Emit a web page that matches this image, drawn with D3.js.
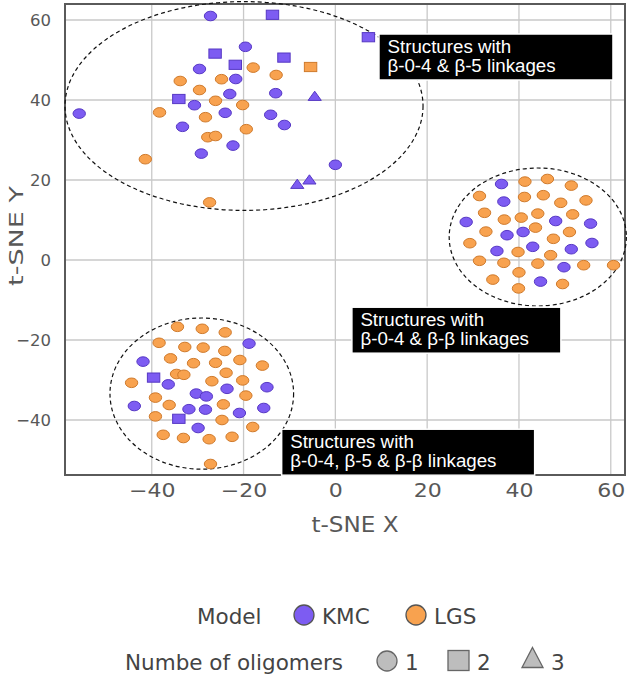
<!DOCTYPE html>
<html>
<head>
<meta charset="utf-8">
<script src="https://cdn.jsdelivr.net/npm/d3@7"></script>
<style>
  html, body { margin: 0; padding: 0; background: #fff; }
  svg { display: block; }
</style>
</head>
<body>
<svg id="chart" width="630" height="676"></svg>
<script>
// ---------- data (t-SNE coordinates) ----------
const xTicks = [-40, -20, 0, 20, 40, 60];
const yTicks = [-40, -20, 0, 20, 40, 60];

// KMC, 1 oligomer (circles)
const kmc1 = [
  [-27.2, 61], [-19.6, 53.3], [-29.6, 47.75], [-21.7, 45.25], [-23.0, 41.5], [-13.0, 41.7],
  [-30.7, 38.7], [-24.0, 36.8], [-14.1, 36.3], [-33.3, 33.3], [-11.1, 33.75], [-22.3, 28.6],
  [-29.2, 26.6], [-55.8, 36.6], [0.0, 23.8],
  [36.2, 19], [36.7, 14.6], [28.5, 9.5], [48, 9.75], [55.6, 9.1], [37.4, 6.2], [40.9, 7],
  [35.2, 2.25], [43, 3.3], [51.4, 2.7], [55.9, 4.25], [49.8, -1.8], [44.7, -5.4],
  [-18.8, -20.9], [-41.9, -25.4], [-36.4, -31.1], [-23.6, -32.2], [-14.9, -31.8], [-30.3, -33.4],
  [-28.1, -34.1], [-43.8, -36.5], [-31.9, -37.3], [-28.3, -37.4], [-20.9, -38.25], [-15.6, -37],
  [-29.9, -42]
];
// KMC, 2 oligomers (squares)
const kmc2 = [
  [-13.7, 61.3], [-26.2, 51.6], [-21.8, 48.8], [-11.2, 50.6], [-34.1, 40.25], [7.2, 55.7],
  [-39.6, -29.4], [-34.1, -39.7]
];
// KMC, 3 oligomers (triangles)
const kmc3 = [[-4.5, 40.9], [-5.65, 20.0], [-8.3, 18.9]];

// LGS, 1 oligomer (circles)
const lgs1 = [
  [-17.9, 48.1], [-12.9, 46.25], [-24.8, 45.2], [-33.8, 44.75], [-29.6, 42.5], [-26.1, 39.8],
  [-20.2, 38.75], [-38.3, 36.9], [-28.3, 35.7], [-19.4, 32.7], [-27.8, 30.7], [-26.1, 31],
  [-41.4, 25.2], [-27.4, 14.4],
  [41.3, 19.6], [46.2, 20.25], [51.4, 18.6], [31.4, 16], [41.2, 15.75], [45.3, 16.2], [49.1, 14.3],
  [54.6, 14.9], [32.5, 11.8], [36.8, 10.1], [40.5, 10.6], [44.1, 11.6], [51.7, 11.4], [32.8, 7.1],
  [43.6, 8.1], [51.0, 7], [29.3, 4.2], [47.5, 5.3], [39.8, 2], [46.9, 1.2], [31.4, -0.2],
  [36.7, -0.7], [44.1, -0.9], [54.1, -1.3], [60.6, -1.3], [40, -3.1], [34.3, -4.9], [49.5, -6],
  [39.9, -7.1],
  [-34.4, -16.7], [-29, -17.2], [-24, -18.1], [-38.4, -20.7], [-32.8, -21.75], [-28.8, -21.9],
  [-24.1, -22.75], [-35.9, -24.6], [-30.9, -25.8], [-26.1, -25.7], [-20.8, -25], [-15.9, -26.4],
  [-34.6, -28.5], [-33, -28.7], [-23.8, -28.2], [-44.4, -30.7], [-26.9, -30.3], [-20.2, -30.1],
  [-39.2, -34.4], [-19.5, -33.9], [-36.2, -36.25], [-24.4, -36.1], [-39.2, -39.1], [-24.7, -40],
  [-18, -41.75], [-37.5, -43.7], [-33.1, -44.5], [-27.5, -44.8], [-22.5, -44.2], [-27.2, -51]
];
// LGS, 2 oligomers (squares)
const lgs2 = [[-5.4, 48.25]];

// cluster ellipses: [cx, cy, rx, ry] in data units
const clusters = [
  [-19.9, 38.5, 39.0, 26.1],
  [44.1, 5.75, 19.3, 17.25],
  [-29.1, -33.4, 20.0, 18.9]
];
// annotation labels: anchor [x, y] (data units, top-left of box) and text lines
const noteAnchors = [[9.5, 56.5], [3.6, -11.8], [-11.7, -42.3]];
const noteLines = [
  ["Structures with", "β-0-4 & β-5 linkages"],
  ["Structures with", "β-0-4 & β-β linkages"],
  ["Structures with", "β-0-4, β-5 & β-β linkages"]
];

const modelNames = ["KMC", "LGS"];
const oligomerNames = ["1", "2", "3"];

// ---------- drawing ----------
const svg = d3.select("#chart");
const C = {
  kmcFill: "#7D5CF2", kmcStroke: "#5638C4",
  lgsFill: "#F8A24F", lgsStroke: "#CF7A2C",
  grid: "#c9c9c9", frame: "#5a5a5a", tick: "#585858", legend: "#444"
};

const x = d3.scaleLinear().domain([-58.9, 63.1]).range([65, 625]);
const y = d3.scaleLinear().domain([-53.75, 64]).range([475, 4]);

// grid
const g = svg.append("g");
g.append("g").selectAll("line").data(xTicks).join("line")
  .attr("x1", d => x(d)).attr("x2", d => x(d))
  .attr("y1", y.range()[0]).attr("y2", y.range()[1])
  .attr("stroke", C.grid).attr("stroke-width", 1.3);
g.append("g").selectAll("line").data(yTicks).join("line")
  .attr("y1", d => y(d)).attr("y2", d => y(d))
  .attr("x1", x.range()[0]).attr("x2", x.range()[1])
  .attr("stroke", C.grid).attr("stroke-width", 1.3);

// frame
svg.append("rect")
  .attr("x", x.range()[0]).attr("y", y.range()[1])
  .attr("width", x.range()[1] - x.range()[0]).attr("height", y.range()[0] - y.range()[1])
  .attr("fill", "none").attr("stroke", C.frame).attr("stroke-width", 2);

// axes tick labels via d3 axes
const xAxis = svg.append("g").attr("transform", `translate(0,${y.range()[0]})`)
  .call(d3.axisBottom(x).tickValues(xTicks).tickSize(0).tickPadding(0).tickFormat(d3.format("d")));
xAxis.select(".domain").remove();
xAxis.selectAll(".tick text")
  .attr("y", 0).attr("dy", null)
  .attr("transform", "translate(0,22) scale(1.16,1)")
  .attr("font-family", "DejaVu Sans").attr("font-size", 19).attr("fill", C.tick);

const yAxis = svg.append("g").attr("transform", `translate(${x.range()[0]},0)`)
  .call(d3.axisLeft(y).tickValues(yTicks).tickSize(0).tickPadding(14).tickFormat(d3.format("d")));
yAxis.select(".domain").remove();
yAxis.selectAll("text")
  .attr("font-family", "DejaVu Sans").attr("font-size", 16.5).attr("fill", C.tick);

// axis titles
svg.append("text").text("t-SNE X")
  .attr("transform", "translate(355,532) scale(1.1,1)")
  .attr("text-anchor", "middle")
  .attr("font-family", "DejaVu Sans").attr("font-size", 21).attr("fill", C.tick);
svg.append("text").text("t-SNE Y")
  .attr("transform", "translate(23,236) rotate(-90) scale(1.35,1)")
  .attr("text-anchor", "middle")
  .attr("font-family", "DejaVu Sans").attr("font-size", 20).attr("fill", C.tick);

// cluster ellipses
svg.append("g").selectAll("ellipse").data(clusters).join("ellipse")
  .attr("cx", d => x(d[0])).attr("cy", d => y(d[1]))
  .attr("rx", d => x(d[0] + d[2]) - x(d[0]))
  .attr("ry", d => y(d[1] - d[3]) - y(d[1]))
  .attr("fill", "none").attr("stroke", "#111").attr("stroke-width", 1.2)
  .attr("stroke-dasharray", "4,3");

// markers
const mk = svg.append("g");
function circles(data, fill, stroke) {
  mk.append("g").selectAll("ellipse").data(data).join("ellipse")
    .attr("cx", d => x(d[0])).attr("cy", d => y(d[1]))
    .attr("rx", 6.2).attr("ry", 4.8)
    .attr("fill", fill).attr("stroke", stroke).attr("stroke-width", 1);
}
function squares(data, fill, stroke) {
  mk.append("g").selectAll("rect").data(data).join("rect")
    .attr("x", d => x(d[0]) - 6.2).attr("y", d => y(d[1]) - 4.6)
    .attr("width", 12.4).attr("height", 9.2)
    .attr("fill", fill).attr("stroke", stroke).attr("stroke-width", 1);
}
function triangles(data, fill, stroke) {
  mk.append("g").selectAll("path").data(data).join("path")
    .attr("d", d => {
      const cx = x(d[0]), cy = y(d[1]);
      return `M${cx},${cy - 5.2}L${cx + 6.6},${cy + 4}L${cx - 6.6},${cy + 4}Z`;
    })
    .attr("fill", fill).attr("stroke", stroke).attr("stroke-width", 1);
}
circles(lgs1, C.lgsFill, C.lgsStroke);
circles(kmc1, C.kmcFill, C.kmcStroke);
squares(lgs2, C.lgsFill, C.lgsStroke);
squares(kmc2, C.kmcFill, C.kmcStroke);
triangles(kmc3, C.kmcFill, C.kmcStroke);

// annotation boxes
const boxW = [234, 209, 253], boxH = 46;
noteAnchors.forEach((a, i) => {
  const bx = x(a[0]), by = y(a[1]);
  const grp = svg.append("g").attr("transform", `translate(${bx},${by})`);
  grp.append("rect").attr("width", boxW[i]).attr("height", boxH)
    .attr("fill", "#000").attr("stroke", "#fff").attr("stroke-width", 1.5);
  grp.selectAll("text").data(noteLines[i]).join("text")
    .attr("transform", (d, j) => `translate(8.5,${18.5 + j * 19.3}) scale(1.07,1)`)
    .attr("font-family", "Liberation Sans, Arial, sans-serif").attr("font-size", 17.5)
    .attr("fill", "#fff").text(d => d);
});

// legend
const lg = svg.append("g").attr("font-family", "DejaVu Sans").attr("font-size", 21.5).attr("fill", C.legend);
lg.append("text").attr("x", 197).attr("y", 624).text("Model");
const modelFills = [[C.kmcFill, C.kmcStroke], [C.lgsFill, C.lgsStroke]];
const modelX = [304, 416];
modelNames.forEach((m, i) => {
  lg.append("circle").attr("cx", modelX[i]).attr("cy", 615).attr("r", 10)
    .attr("fill", modelFills[i][0]).attr("stroke", "#555").attr("stroke-width", 1.3);
  lg.append("text").attr("x", modelX[i] + 18).attr("y", 624).text(m);
});
lg.append("text").attr("x", 125).attr("y", 670).text("Numbe of oligomers");
const grayF = "#bdbdbd", grayS = "#666";
lg.append("circle").attr("cx", 387).attr("cy", 661).attr("r", 10)
  .attr("fill", grayF).attr("stroke", grayS).attr("stroke-width", 1.3);
lg.append("rect").attr("x", 448).attr("y", 650.5).attr("width", 21).attr("height", 20)
  .attr("fill", grayF).attr("stroke", grayS).attr("stroke-width", 1.3);
lg.append("path").attr("d", "M532.5,647.5L543,667.5L522,667.5Z")
  .attr("fill", grayF).attr("stroke", grayS).attr("stroke-width", 1.3);
const olgX = [405, 477, 551];
oligomerNames.forEach((o, i) => {
  lg.append("text").attr("x", olgX[i]).attr("y", 670).text(o);
});
</script>
</body>
</html>
